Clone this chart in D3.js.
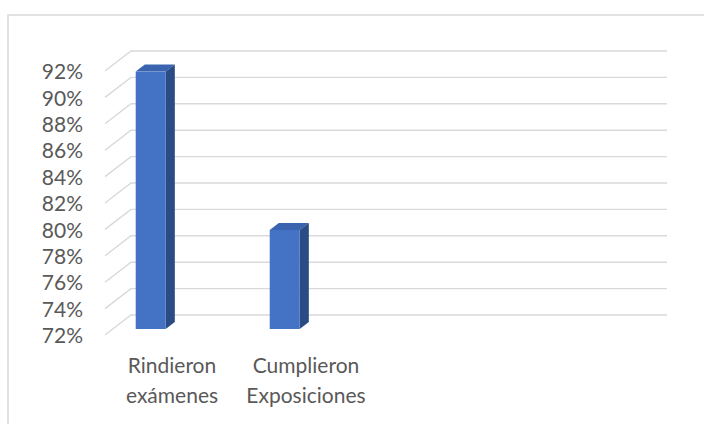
<!DOCTYPE html>
<html>
<head>
<meta charset="utf-8">
<script src="https://cdn.jsdelivr.net/npm/d3@7"></script>
<style>
  body { margin: 0; background: #fff; }
  svg { display: block; font-family: Lato, "Open Sans", sans-serif; }
</style>
</head>
<body>
<div id="chart"></div>
<script>
const categories = ['Rindieron exámenes', 'Cumplieron Exposiciones', '', ''];
const values = [0.915, 0.795];
const tickValues = [0.72, 0.74, 0.76, 0.78, 0.80, 0.82, 0.84, 0.86, 0.88, 0.90, 0.92];

const W = 704, H = 424;
const floorLeft = 105;          // front-left corner of the floor
const depth = { dx: 26, dy: -20 }; // front -> back wall
const plotW = 536;

const svg = d3.select('#chart')
  .append('svg')
  .attr('width', W)
  .attr('height', H);

// chart area border (only the top/left edges fall inside the picture)
svg.append('rect')
  .attr('x', 8).attr('y', 15)
  .attr('width', W + 20).attr('height', H + 20)
  .attr('fill', 'none')
  .attr('stroke', '#d9d9d9')
  .attr('stroke-width', 1.5);

const x = d3.scaleBand().domain(categories.map((c, i) => i)).range([0, plotW]);
// y on the back wall
const y = d3.scaleLinear().domain([0.72, 0.92]).range([315, 51]);

// point at depth t (0 = front edge, 1 = back wall)
const px = (xv, t) => floorLeft + xv + depth.dx * t;
const py = (v, t) => y(v) - depth.dy * (1 - t);

// gridlines: back wall + side wall diagonal
const grid = svg.append('g')
  .attr('fill', 'none')
  .attr('stroke', '#d9d9d9')
  .attr('stroke-width', 1.4);

grid.selectAll('path')
  .data(tickValues)
  .enter()
  .append('path')
  .attr('d', d => `M${px(0, 0)},${py(d, 0)} L${px(0, 1)},${py(d, 1)} L${px(plotW, 1)},${py(d, 1)}`);

// y axis labels
const yAxis = d3.axisLeft(d3.scaleLinear().domain(y.domain()).range([py(0.72, 0), py(0.92, 0)]))
  .tickValues(tickValues)
  .tickFormat(d3.format('.0%'))
  .tickSize(0)
  .tickPadding(0);

const ya = svg.append('g')
  .attr('transform', `translate(${floorLeft - 22},1)`)
  .call(yAxis);
ya.select('.domain').remove();
ya.selectAll('text')
  .attr('fill', '#595959')
  .style('font-size', '21px')
  .style('font-family', 'Lato, "Open Sans", sans-serif');

// bars
const tFront = 0.3, tBack = 0.65;
const barOff = 0.171, barW = 0.224;

const bars = svg.append('g')
  .selectAll('g')
  .data(values)
  .enter()
  .append('g');

const bx0 = (i) => x(i) + x.bandwidth() * barOff;
const bx1 = (i) => x(i) + x.bandwidth() * (barOff + barW);

// top face
bars.append('path')
  .attr('fill', '#3a64b0')
  .attr('d', (d, i) => `M${px(bx0(i), tFront)},${py(d, tFront)}
    L${px(bx0(i), tBack)},${py(d, tBack)}
    L${px(bx1(i), tBack)},${py(d, tBack)}
    L${px(bx1(i), tFront)},${py(d, tFront)}Z`);

// side face
bars.append('path')
  .attr('fill', '#2b4b84')
  .attr('d', (d, i) => `M${px(bx1(i), tFront)},${py(d, tFront)}
    L${px(bx1(i), tBack)},${py(d, tBack)}
    L${px(bx1(i), tBack)},${py(0.72, tBack)}
    L${px(bx1(i), tFront)},${py(0.72, tFront)}Z`);

// front face
bars.append('rect')
  .attr('fill', '#4472c4')
  .attr('x', (d, i) => px(bx0(i), tFront))
  .attr('y', d => py(d, tFront))
  .attr('width', x.bandwidth() * barW)
  .attr('height', d => py(0.72, tFront) - py(d, tFront));

// category labels
const xAxis = d3.axisBottom(d3.scaleBand().domain(x.domain()).range([floorLeft, floorLeft + plotW]))
  .tickSize(0)
  .tickFormat(i => categories[i]);

const xa = svg.append('g')
  .attr('transform', 'translate(0,355)')
  .call(xAxis);
xa.select('.domain').remove();
xa.selectAll('text')
  .attr('fill', '#595959')
  .style('font-size', '21px')
  .style('font-family', 'Lato, "Open Sans", sans-serif')
  .each(function(i) {
    const words = categories[i].split(' ');
    const t = d3.select(this).text(null);
    words.forEach((w, k) => {
      t.append('tspan')
        .attr('x', 0)
        .attr('dy', k === 0 ? '0.71em' : '1.43em')
        .text(w);
    });
  })
  .attr('dy', null);
</script>
</body>
</html>
